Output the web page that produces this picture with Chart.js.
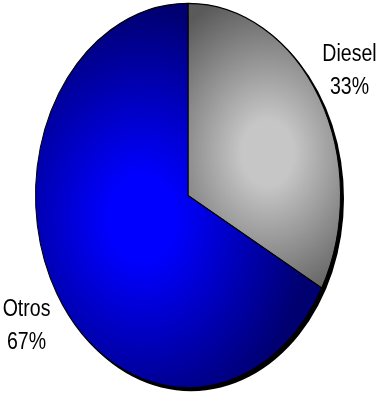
<!DOCTYPE html>
<html>
<head>
<meta charset="utf-8">
<script src="https://cdn.jsdelivr.net/npm/chart.js@4/dist/chart.umd.min.js"></script>
<style>
  html, body { margin: 0; padding: 0; background: #fff; }
  canvas { display: block; }
</style>
</head>
<body>
<canvas id="fuelPie" width="384" height="394"></canvas>
<script>
// Chart data
const categories = ['Diesel', 'Otros'];
const shares = [33, 67];
const shareLabels = ['33%', '67%'];

// gradient look for each slice: light centre, dark edge, centre offset (in radii), spread
const sliceShades = [
    { light: '#c6c6c6', dark: '#5a5a5a', dx: 0.52, dy: -0.22, spread: 0.85 },
    { light: '#0000ff', dark: '#000070', dx: -0.3, dy: 0.12, spread: 1.1 }
];

const stretchY = 1.26; // pie is drawn as a tall ellipse

function sliceFill(context) {
    const chart = context.chart;
    const area = chart.chartArea;
    const shade = sliceShades[context.dataIndex];
    if (!area) return shade.light;
    const cx = (area.left + area.right) / 2;
    const cy = (area.top + area.bottom) / 2;
    const r = Math.min(area.right - area.left, area.bottom - area.top) / 2;
    const gx = cx + shade.dx * r;
    const gy = cy + shade.dy * r;
    const g = chart.ctx.createRadialGradient(gx, gy, 0, gx, gy, r * shade.spread);
    g.addColorStop(0, shade.light);
    g.addColorStop(0.2, shade.light);
    g.addColorStop(1, shade.dark);
    return g;
}

// squash the pie into an ellipse and put a drop shadow behind it
const ellipsePlugin = {
    id: 'ellipse',
    beforeDatasetsDraw(chart) {
        const arc = chart.getDatasetMeta(0).data[0];
        const ctx = chart.ctx;
        ctx.save();
        ctx.translate(arc.x, arc.y);
        ctx.scale(1, stretchY);
        ctx.translate(-arc.x, -arc.y);
        ctx.fillStyle = '#000';
        ctx.beginPath();
        ctx.arc(arc.x + 3, arc.y + 3 / stretchY, arc.outerRadius + 0.5, 0, Math.PI * 2);
        ctx.fill();
    },
    afterDatasetsDraw(chart) {
        chart.ctx.restore();
    }
};

// outside labels: name on one line, percentage below (narrow face)
const labelPlugin = {
    id: 'sliceLabels',
    afterDraw(chart) {
        const ctx = chart.ctx;
        const arcs = chart.getDatasetMeta(0).data;
        const squeeze = 0.85;
        ctx.save();
        ctx.font = '23px "Liberation Sans", Arial, sans-serif';
        ctx.fillStyle = '#000';
        ctx.textAlign = 'center';
        ctx.textBaseline = 'alphabetic';
        arcs.forEach((arc, i) => {
            const mid = (arc.startAngle + arc.endAngle) / 2;
            const x = arc.x + Math.cos(mid) * arc.outerRadius * 1.23;
            const y = arc.y + Math.sin(mid) * arc.outerRadius * stretchY * 1.3 + 9.5;
            ctx.save();
            ctx.translate(x, y);
            ctx.scale(squeeze, 1);
            ctx.fillText(categories[i], 0, -16.5);
            ctx.fillText(shareLabels[i], 0, 16.5);
            ctx.restore();
        });
        ctx.restore();
    }
};

const ctx = document.getElementById('fuelPie').getContext('2d');
new Chart(ctx, {
    type: 'pie',
    data: {
        labels: categories,
        datasets: [{
            data: shares,
            backgroundColor: sliceFill,
            borderColor: '#000',
            borderWidth: 1
        }]
    },
    options: {
        responsive: false,
        animation: false,
        layout: { padding: { left: 35, right: 43, top: 42.5, bottom: 45.5 } },
        plugins: {
            legend: { display: false },
            tooltip: { enabled: false }
        }
    },
    plugins: [ellipsePlugin, labelPlugin]
});
</script>
</body>
</html>
